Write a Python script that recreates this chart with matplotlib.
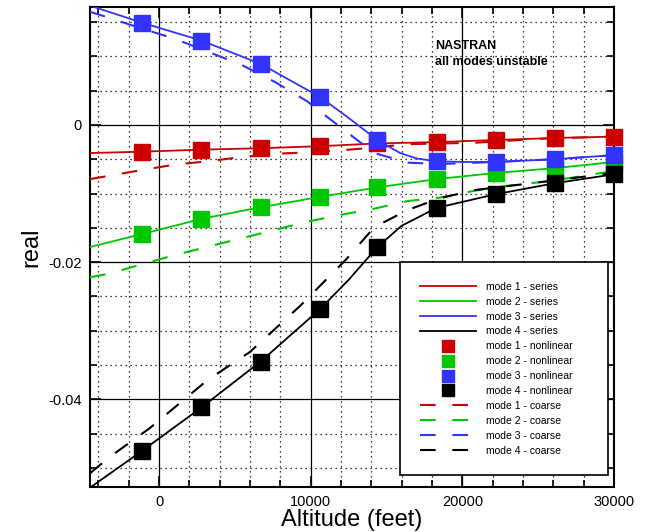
import matplotlib
matplotlib.use("Agg")
import matplotlib.pyplot as plt
from matplotlib.ticker import MultipleLocator, FuncFormatter

plt.rcParams['font.family'] = ['Liberation Sans', 'DejaVu Sans']
plt.rcParams['axes.unicode_minus'] = False

# nonlinear solution points (same altitudes for every mode)
alt_nl = [-1100, 2800, 6700, 10600, 14400, 18300, 22200, 26100, 30000]
nl_mode1 = [-0.0039, -0.0036, -0.0034, -0.0031, -0.0027, -0.0025, -0.0022, -0.0019, -0.0017]
nl_mode2 = [-0.0159, -0.0137, -0.0120, -0.0105, -0.0091, -0.0079, -0.0070, -0.0063, -0.0054]
nl_mode3 = [0.0149, 0.0123, 0.0089, 0.0041, -0.0022, -0.0053, -0.0054, -0.0050, -0.0044]
nl_mode4 = [-0.0475, -0.0412, -0.0345, -0.0269, -0.0178, -0.0121, -0.0101, -0.0085, -0.0072]

# series solution
alt_s1 = [-4550, -1100, 2800, 6700, 10600, 14400, 18300, 22200, 26100, 30000]
s_mode1 = [-0.0041, -0.0039, -0.0036, -0.0034, -0.0031, -0.0027, -0.0025, -0.0022, -0.0019, -0.0017]
alt_s2 = [-4550, -1100, 2800, 6700, 10600, 14400, 18300, 22200, 26100, 30000]
s_mode2 = [-0.0178, -0.0159, -0.0137, -0.0120, -0.0105, -0.0091, -0.0079, -0.0070, -0.0063, -0.0054]
alt_s3 = [-4550, -1100, 2800, 6700, 10600, 12400, 14400, 15900, 17000, 18300, 20000, 22200, 26100, 30000]
s_mode3 = [0.0174, 0.0149, 0.0123, 0.0089, 0.0041, 0.0012, -0.0022, -0.0041, -0.0049, -0.0053, -0.0054, -0.0054, -0.0050, -0.0044]
alt_s4 = [-4550, -1100, 2800, 6700, 10600, 12500, 14400, 16000, 18300, 22200, 26100, 30000]
s_mode4 = [-0.0529, -0.0475, -0.0412, -0.0345, -0.0269, -0.0226, -0.0178, -0.0147, -0.0121, -0.0101, -0.0085, -0.0072]

# coarse solution
alt_c1 = [-4550, -1200, 1000, 3200, 5400, 7700, 9800, 12000, 14200, 16400, 20800, 25300, 30000]
c_mode1 = [-0.0079, -0.0066, -0.0058, -0.0053, -0.0047, -0.0042, -0.0040, -0.0037, -0.0033, -0.0028, -0.0026, -0.0020, -0.0017]
alt_c2 = [-4550, -3300, -1100, 1000, 9800, 12000, 14200, 16400, 18500, 20800, 22900, 25300, 27500, 30000]
c_mode2 = [-0.0222, -0.0217, -0.0203, -0.0190, -0.0141, -0.0131, -0.0122, -0.0111, -0.0106, -0.0096, -0.0089, -0.0083, -0.0076, -0.0067]
alt_c3 = [-4550, -3400, -1200, 1000, 3200, 5400, 7700, 9800, 12000, 14200, 16400, 18500, 22200, 26100, 30000]
c_mode3 = [0.0165, 0.0157, 0.0141, 0.0126, 0.0107, 0.0088, 0.0062, 0.0034, -0.0004, -0.0041, -0.0055, -0.0057, -0.0054, -0.0050, -0.0044]
alt_c4 = [-4550, -3300, -600, 3200, 6000, 9300, 12300, 14200, 16400, 18500, 20800, 25300, 30000]
c_mode4 = [-0.0508, -0.0485, -0.0442, -0.0372, -0.0331, -0.0264, -0.0197, -0.0149, -0.0124, -0.0107, -0.0095, -0.0083, -0.0070]

colors = ['#cc0000', '#00c800', '#3333ff', 'black']
series = [(alt_s1, s_mode1), (alt_s2, s_mode2), (alt_s3, s_mode3), (alt_s4, s_mode4)]
coarse = [(alt_c1, c_mode1), (alt_c2, c_mode2), (alt_c3, c_mode3), (alt_c4, c_mode4)]
nonlin = [nl_mode1, nl_mode2, nl_mode3, nl_mode4]

fig = plt.figure(figsize=(6.45, 5.32), dpi=100)
ax = fig.add_axes([90/645, 1 - 487/532, (614-90)/645, (487-7)/532])

dash = (0, (7.5, 8.0))
h_series, h_nl, h_coarse = [], [], []
for i in range(4):
    l, = ax.plot(series[i][0], series[i][1], color=colors[i], lw=1.3, zorder=3)
    h_series.append(l)
    l, = ax.plot(coarse[i][0], coarse[i][1], color=colors[i], lw=1.5, ls=dash, zorder=3)
    h_coarse.append(l)
for i in range(4):
    l, = ax.plot(alt_nl, nonlin[i], ls='none', marker='s', ms=11, color=colors[i],
                 markeredgecolor=colors[i], clip_on=False, zorder=4)
    h_nl.append(l)

ax.set_xlim(-4550, 30000)
ax.set_ylim(-0.0528, 0.0172)
ax.xaxis.set_major_locator(MultipleLocator(10000))
ax.xaxis.set_minor_locator(MultipleLocator(2000))
ax.yaxis.set_major_locator(MultipleLocator(0.02))
ax.yaxis.set_minor_locator(MultipleLocator(0.005))
ax.yaxis.set_major_formatter(FuncFormatter(lambda v, p: '0' if abs(v) < 1e-9 else ('%g' % v)))

ax.grid(which='major', color='black', lw=0.9, ls='-', zorder=1)
ax.grid(which='minor', color='black', lw=0.9, ls=(0, (1, 3)), zorder=1)
ax.set_axisbelow(True)
ax.tick_params(which='both', direction='in', top=True, right=True, width=1.2)
ax.tick_params(which='major', length=8, labelsize=10.5, pad=6)
ax.tick_params(which='minor', length=5)
for s in ax.spines.values():
    s.set_linewidth(1.5)

ax.set_xlabel('Altitude (feet)', fontsize=17, labelpad=0)
ax.set_ylabel('real', fontsize=17, labelpad=4)

ax.text(18200, 0.0124, 'NASTRAN\nall modes unstable', fontsize=9, fontweight='bold',
        va='top', ha='left', linespacing=1.4, zorder=5)

handles = h_series + h_nl + h_coarse
labels = ['mode %d - series' % (i + 1) for i in range(4)] + \
         ['mode %d - nonlinear' % (i + 1) for i in range(4)] + \
         ['mode %d - coarse' % (i + 1) for i in range(4)]
leg = ax.legend(handles, labels, loc='upper left',
                bbox_to_anchor=(400/645, 1 - 477/532, (608-400)/645, (477-262)/532),
                bbox_transform=fig.transFigure, mode='expand',
                fontsize=7.5, handlelength=5.4, handletextpad=1.0, labelspacing=0.47,
                borderpad=1.9, borderaxespad=0, markerscale=0.78,
                fancybox=False, framealpha=1, edgecolor='black')
leg.get_frame().set_linewidth(1.2)
leg.set_zorder(6)

fig.savefig('out.png', dpi=100)
